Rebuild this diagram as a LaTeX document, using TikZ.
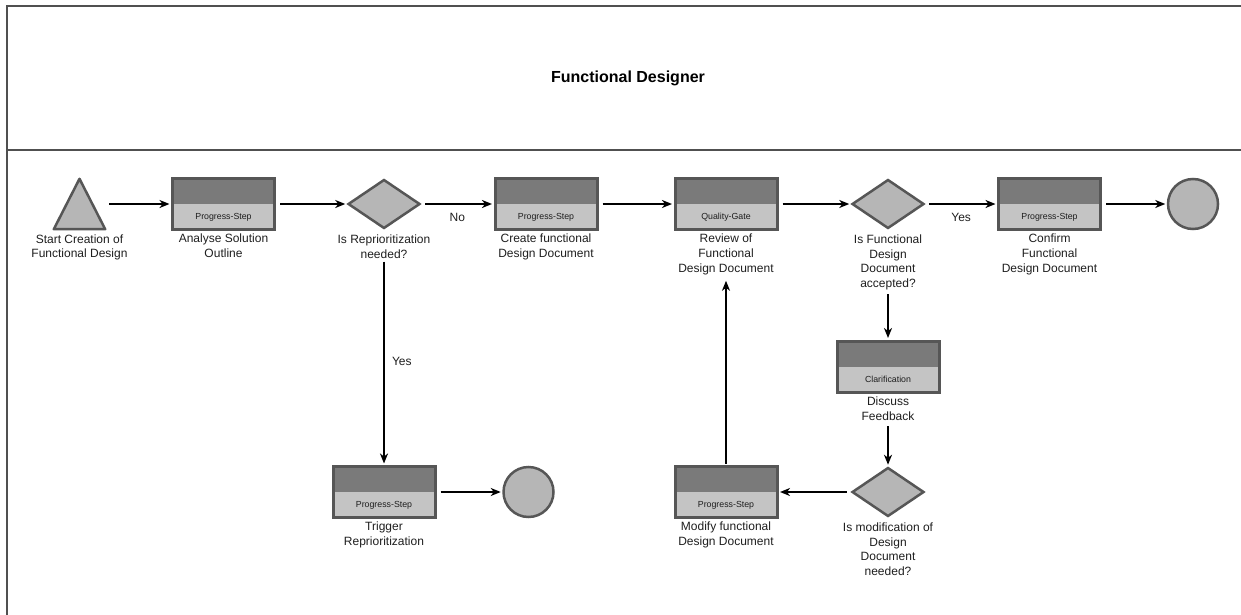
\documentclass[tikz,border=0pt]{standalone}
\usepackage{fontspec}
\setmainfont{Liberation Sans}
\usetikzlibrary{shapes.geometric,arrows.meta,positioning}
\definecolor{edgegray}{HTML}{565656}
\definecolor{topgray}{HTML}{7A7A7A}
\definecolor{botgray}{HTML}{C4C4C4}
\definecolor{shapegray}{HTML}{B6B6B6}
\definecolor{framegray}{HTML}{505050}
\definecolor{textgray}{HTML}{1E1E1E}
\tikzset{
  stepbox/.style={draw=edgegray, line width=3pt, fill=botgray,
    minimum width=102pt, minimum height=51pt, inner sep=0pt,
    path picture={\fill[topgray] (path picture bounding box.north west) rectangle (path picture bounding box.east);},
    label={[tagtext, yshift=-13pt]center:#1}},
  tagtext/.style={font=\fontsize{8.8}{10}\selectfont, text=textgray, inner sep=0pt},
  decision/.style={diamond, draw=edgegray, line width=2.5pt, fill=shapegray,
    minimum width=72pt, minimum height=49pt, aspect=1.47, inner sep=0pt},
  endcircle/.style={circle, draw=edgegray, line width=2.5pt, fill=shapegray,
    minimum size=50pt, inner sep=0pt},
  lbl/.style={font=\fontsize{12}{14.6}\selectfont, align=center, inner sep=0pt, text=textgray},
  elbl/.style={font=\fontsize{12}{14}\selectfont, inner sep=0pt, text=textgray},
  arr/.style={draw=black, line width=2pt, -{Stealth[length=10pt, width=8pt, inset=3pt]},
    shorten <=4pt, shorten >=1.5pt},
  frame/.style={draw=framegray, line width=1.5pt},
}
\begin{document}
\begin{tikzpicture}[x=1pt, y=-1pt]
\useasboundingbox (0,0) rectangle (1241,615);
% frame
\draw[frame] (1241,6) -- (7,6) -- (7,615);
\draw[frame] (7,150) -- (1241,150);
\node[font=\bfseries\fontsize{16}{19}\selectfont, text=black, inner sep=0pt] (title) at (628,78) {Functional Designer};

% start triangle
\node[minimum width=51pt, minimum height=50pt, inner sep=0pt] (start) at (79.5,204) {};
\draw[draw=edgegray, line width=2.5pt, fill=shapegray, line join=round]
  (start.south west) -- (start.north) -- (start.south east) -- cycle;
\node[lbl, below=5pt of start] (startl) {Start Creation of\\Functional Design};

% top row
\node[stepbox=Progress-Step] (b1) at (223.5,204) {};
\node[lbl, below=3pt of b1] (b1l) {Analyse Solution\\Outline};

\node[decision] (d1) at (384,204) {};
\node[lbl, below=5pt of d1] (d1l) {Is Reprioritization\\needed?};

\node[stepbox=Progress-Step] (b2) at (546,204) {};
\node[lbl, below=3pt of b2] (b2l) {Create functional\\Design Document};

\node[stepbox=Quality-Gate] (b3) at (726,204) {};
\node[lbl, below=3pt of b3] (b3l) {Review of\\Functional\\Design Document};

\node[decision] (d2) at (888,204) {};
\node[lbl, below=5pt of d2] (d2l) {Is Functional\\Design\\Document\\accepted?};

\node[stepbox=Progress-Step] (b4) at (1049.5,204) {};
\node[lbl, below=3pt of b4] (b4l) {Confirm\\Functional\\Design Document};

\node[endcircle] (c1) at (1193,204) {};

% clarification
\node[stepbox=Clarification] (clar) at (888,366.5) {};
\node[lbl, below=3pt of clar] (clarl) {Discuss\\Feedback};

% bottom row
\node[stepbox=Progress-Step] (trig) at (384,492) {};
\node[lbl, below=3pt of trig] (trigl) {Trigger\\Reprioritization};

\node[endcircle] (c2) at (528.5,492) {};

\node[stepbox=Progress-Step] (mod) at (726,492) {};
\node[lbl, below=3pt of mod] (modl) {Modify functional\\Design Document};

\node[decision] (d3) at (888,492) {};
\node[lbl, below=5pt of d3] (d3l) {Is modification of\\Design\\Document\\needed?};

% connectors
\draw[arr] (start.east) -- (b1.west);
\draw[arr] (b1.east) -- (d1.west);
\draw[arr] (d1.east) -- (b2.west) node[elbl, midway, below=8pt] (no) {No};
\draw[arr] (b2.east) -- (b3.west);
\draw[arr] (b3.east) -- (d2.west);
\draw[arr] (d2.east) -- (b4.west) node[elbl, midway, below=8pt] (yes1) {Yes};
\draw[arr] (b4.east) -- (c1.west);
\draw[arr, shorten <=3pt] (d1l.south) -- (trig.north) node[elbl, midway, right=7pt] (yes2) {Yes};
\draw[arr] (trig.east) -- (c2.west);
\draw[arr] (d2l.south) -- (clar.north);
\draw[arr, shorten <=6pt] (clarl.south) -- (d3.north);
\draw[arr] (d3.west) -- (mod.east);
\draw[arr, shorten <=1.5pt, shorten >=6pt] (mod.north) -- (b3l.south);
\end{tikzpicture}
\end{document}
